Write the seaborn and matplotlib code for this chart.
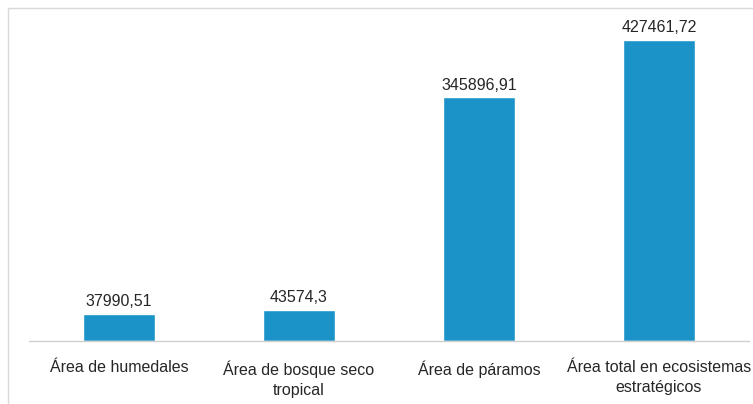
import matplotlib
matplotlib.use('Agg')
import matplotlib.pyplot as plt
import seaborn as sns
import pandas as pd
from matplotlib.patches import Rectangle

categories = ['Área de humedales', 'Área de bosque seco\ntropical',
              'Área de páramos', 'Área total en ecosistemas\nestratégicos']
values = [37990.51, 43574.3, 345896.91, 427461.72]
value_labels = ['37990,51', '43574,3', '345896,91', '427461,72']

sns.set_theme(style='white')
plt.rcParams['font.family'] = ['Liberation Sans Narrow', 'Liberation Sans', 'DejaVu Sans']

df = pd.DataFrame({'cat': categories, 'val': values})

W, H = 753, 404
fig = plt.figure(figsize=(W / 100, H / 100), dpi=100)
ax = fig.add_axes([29 / W, 1 - 341 / H, 720 / W, 333 / H])

sns.barplot(data=df, x='cat', y='val', color='#1b93c9', saturation=1, width=0.4, ax=ax)
ax.set_ylim(0, 333 / 301 * 427461.72)
ax.set_xlim(-0.5, 3.5)

for i, (v, lab) in enumerate(zip(values, value_labels)):
    ax.text(i, v + 7000, lab, ha='center', va='bottom', fontsize=11.5, color='#262626')

ax.set_xlabel('')
ax.set_ylabel('')
ax.set_yticks([])
ax.tick_params(axis='x', length=0, pad=14, labelsize=11.5, labelcolor='#262626')
for lbl in ax.get_xticklabels():
    lbl.set_linespacing(1.4)
for s in ['top', 'right', 'left']:
    ax.spines[s].set_visible(False)
ax.spines['bottom'].set_color('#d0d0d0')
ax.spines['bottom'].set_linewidth(1)

# outer chart frame
fig.patches.append(Rectangle((8 / W, -0.01), 1.0, 1 - 8 / H + 0.01, transform=fig.transFigure,
                             fill=False, edgecolor='#d9d9d9', linewidth=1))

fig.savefig('out.png', dpi=100)
